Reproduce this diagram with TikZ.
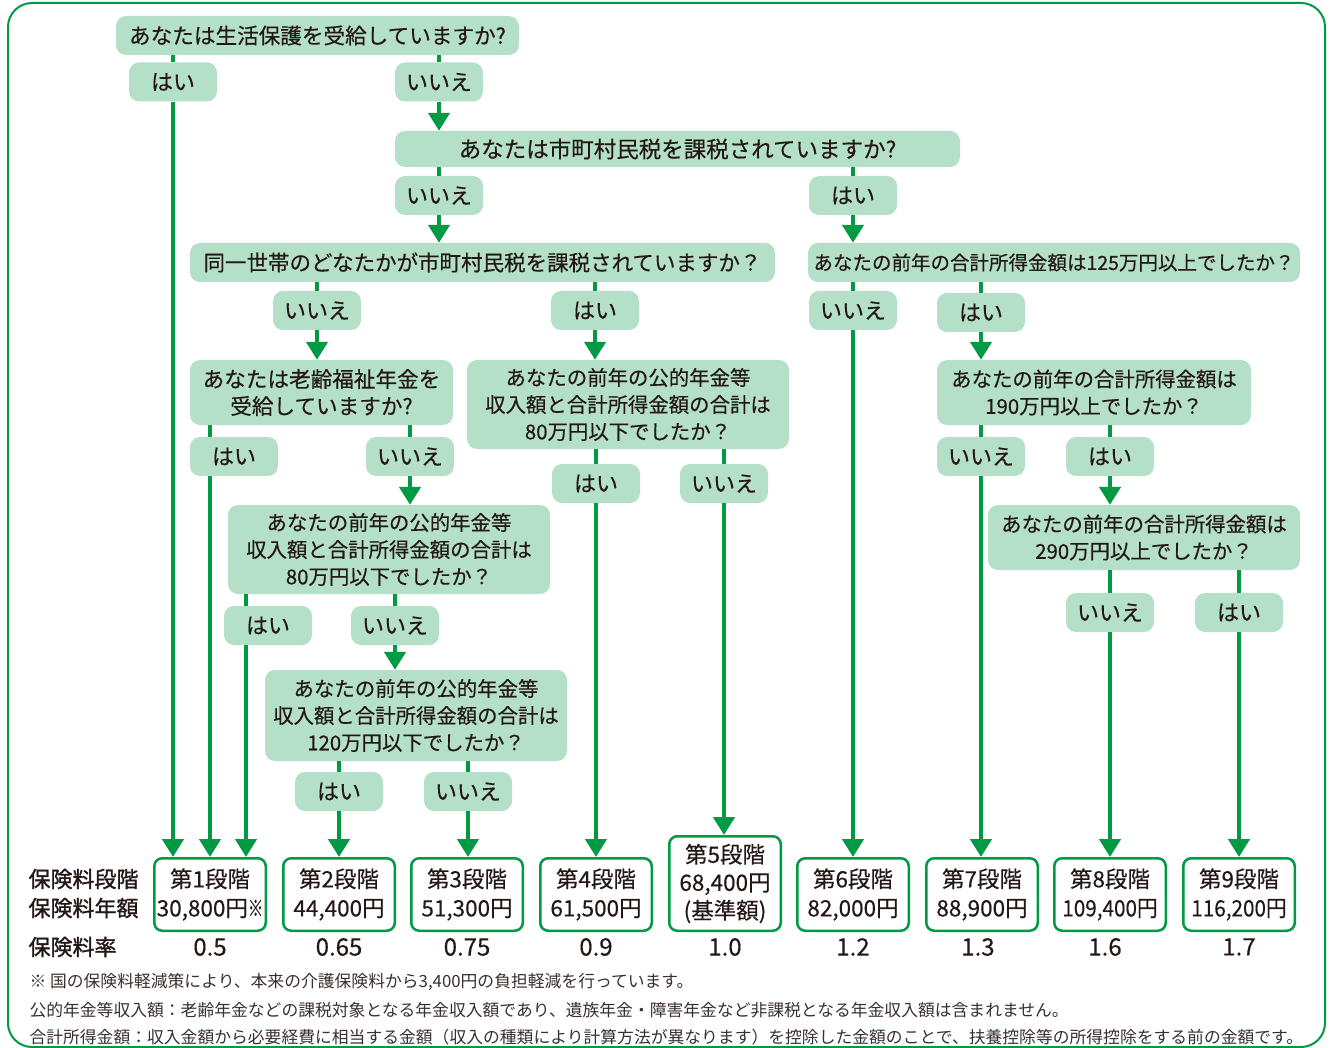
\documentclass[tikz,border=0pt]{standalone}
\usepackage{fontspec}
\setmainfont{Noto Sans CJK JP}[FakeBold=0.35]
\newfontfamily\notefont{Noto Sans CJK JP}
\newfontfamily\hdfont{Noto Sans CJK JP}[FakeBold=1.3]
\usetikzlibrary{arrows.meta,calc}
\definecolor{gline}{RGB}{0,153,68}
\definecolor{qfill}{RGB}{180,224,199}
\definecolor{ink}{RGB}{35,24,21}
\newcommand{\fsz}[1]{\fontsize{#1}{27}\selectfont}
\begin{document}
\begin{tikzpicture}[x=1pt,y=-1pt,
  q/.style={fill=qfill, rounded corners=10pt, inner sep=0pt, align=center, text=ink, font=\fsz{20.4}},
  ans/.style={fill=qfill, rounded corners=10pt, inner sep=0pt, minimum width=88pt, minimum height=39pt, text=ink, font=\fontsize{22}{24}\selectfont},
  lvl/.style={draw=gline, line width=2.5pt, fill=white, rounded corners=8pt, minimum width=111.5pt, minimum height=72.5pt, inner sep=0pt, align=center, text=ink, font=\fontsize{22.5}{29}\selectfont},
  stub/.style={draw=gline, line width=4.5pt},
  arr/.style={draw=gline, line width=4.5pt, -{Triangle[width=21pt,length=18pt]}},
  hd/.style={anchor=west, text=ink, font=\hdfont\fontsize{22}{22}\selectfont},
  rate/.style={text=ink, font=\fontsize{24}{24}\selectfont},
  note/.style={anchor=west, text=ink!90, font=\notefont\fontsize{16.8}{16.8}\selectfont},
]
\useasboundingbox (0,0) rectangle (1330,1048);
\draw[gline, line width=2pt, rounded corners=24pt] (8,3) rectangle (1325,1047);

% questions
\node[q, font=\fsz{21.6}, minimum width=403pt, minimum height=39pt] (q1) at (317.5,35.5) {あなたは生活保護を受給していますか?};
\node[q, font=\fsz{22.5}, minimum width=565pt, minimum height=36pt] (q2) at (677.5,149) {あなたは市町村民税を課税されていますか?};
\node[q, font=\fsz{21.5}, minimum width=585pt, minimum height=39pt] (q3) at (482.5,262.5) {同一世帯のどなたかが市町村民税を課税されていますか？};
\node[q, font=\fsz{19.5}, minimum width=492pt, minimum height=39pt] (q4) at (1054,262.5) {あなたの前年の合計所得金額は125万円以上でしたか？};
\node[q, font=\fsz{21.6}, minimum width=263pt, minimum height=65pt] (q5) at (321.5,392.5) {あなたは老齢福祉年金を\\受給していますか?};
\node[q, minimum width=322pt, minimum height=89pt] (q6) at (628,404.5) {あなたの前年の公的年金等\\収入額と合計所得金額の合計は\\80万円以下でしたか？};
\node[q, minimum width=314pt, minimum height=65pt] (q7) at (1094,392.5) {あなたの前年の合計所得金額は\\190万円以上でしたか？};
\node[q, minimum width=322pt, minimum height=89pt] (q8) at (389,549.5) {あなたの前年の公的年金等\\収入額と合計所得金額の合計は\\80万円以下でしたか？};
\node[q, minimum width=312pt, minimum height=65pt] (q9) at (1144,537.5) {あなたの前年の合計所得金額は\\290万円以上でしたか？};
\node[q, minimum width=302pt, minimum height=91pt] (q10) at (416,715.5) {あなたの前年の公的年金等\\収入額と合計所得金額の合計は\\120万円以下でしたか？};

% answers
\node[ans] (yes1) at (173,82) {はい};
\node[ans] (no1) at (439,82) {いいえ};
\node[ans] (no2) at (439,195.5) {いいえ};
\node[ans] (yes2) at (853,195.5) {はい};
\node[ans] (no3) at (317,310.5) {いいえ};
\node[ans] (yes3) at (595,310.5) {はい};
\node[ans] (no4) at (853,310.5) {いいえ};
\node[ans] (yes4) at (981,312.5) {はい};
\node[ans] (yes5) at (234,456.5) {はい};
\node[ans] (no5) at (410,456.5) {いいえ};
\node[ans] (yes6) at (596,483.5) {はい};
\node[ans] (no6) at (724,483.5) {いいえ};
\node[ans] (no7) at (981,456.5) {いいえ};
\node[ans] (yes7) at (1110,456.5) {はい};
\node[ans] (yes8) at (268,625.5) {はい};
\node[ans] (no8) at (395,625.5) {いいえ};
\node[ans] (no9) at (1110,612.5) {いいえ};
\node[ans] (yes9) at (1239,612.5) {はい};
\node[ans] (yes10) at (339,791.5) {はい};
\node[ans] (no10) at (468,791.5) {いいえ};

% levels
\node[lvl] (t1) at (210,894.5) {第1段階\\30,800円\scalebox{0.68}[1]{※}};
\node[lvl] (t2) at (339,894.5) {第2段階\\44,400円};
\node[lvl] (t3) at (467,894.5) {第3段階\\51,300円};
\node[lvl] (t4) at (596,894.5) {第4段階\\61,500円};
\node[lvl, minimum height=94.5pt, font=\fontsize{22.5}{28}\selectfont] (t5) at (725,883.5) {第5段階\\68,400円\\(基準額)};
\node[lvl] (t6) at (853,894.5) {第6段階\\82,000円};
\node[lvl] (t7) at (982,894.5) {第7段階\\88,900円};
\node[lvl] (t8) at (1110,894.5) {第8段階\\\scalebox{0.92}[1]{109,400円}};
\node[lvl] (t9) at (1239,894.5) {第9段階\\\scalebox{0.92}[1]{116,200円}};

\coordinate (x8) at (246,0);

% connectors
\draw[stub] (q1.south -| yes1) -- (yes1.north);
\draw[arr] (yes1.south) -- (yes1.south |- t1.north);
\draw[stub] (q1.south -| no1) -- (no1.north);
\draw[arr] (no1.south) -- (no1.south |- q2.north);
\draw[stub] (q2.south -| no2) -- (no2.north);
\draw[arr] (no2.south) -- (no2.south |- q3.north);
\draw[stub] (q2.south -| yes2) -- (yes2.north);
\draw[arr] (yes2.south) -- (yes2.south |- q4.north);
\draw[stub] (q3.south -| no3) -- (no3.north);
\draw[arr] (no3.south) -- (no3.south |- q5.north);
\draw[stub] (q3.south -| yes3) -- (yes3.north);
\draw[arr] (yes3.south) -- (yes3.south |- q6.north);
\draw[stub] (q4.south -| no4) -- (no4.north);
\draw[arr] (no4.south) -- (no4.south |- t6.north);
\draw[stub] (q4.south -| yes4) -- (yes4.north);
\draw[arr] (yes4.south) -- (yes4.south |- q7.north);
\draw[stub] (q5.south -| t1) -- (yes5.north -| t1);
\draw[arr] (yes5.south -| t1) -- (t1.north);
\draw[stub] (q5.south -| no5) -- (no5.north);
\draw[arr] (no5.south) -- (no5.south |- q8.north);
\draw[stub] (q6.south -| yes6) -- (yes6.north);
\draw[arr] (yes6.south) -- (yes6.south |- t4.north);
\draw[stub] (q6.south -| no6) -- (no6.north);
\draw[arr] (no6.south) -- (no6.south |- t5.north);
\draw[stub] (q7.south -| no7) -- (no7.north);
\draw[arr] (no7.south) -- (no7.south |- t7.north);
\draw[stub] (q7.south -| yes7) -- (yes7.north);
\draw[arr] (yes7.south) -- (yes7.south |- q9.north);
\draw[stub] (q8.south -| x8) -- (yes8.north -| x8);
\draw[arr] (yes8.south -| x8) -- (t1.north -| x8);
\draw[stub] (q8.south -| no8) -- (no8.north);
\draw[arr] (no8.south) -- (no8.south |- q10.north);
\draw[stub] (q9.south -| no9) -- (no9.north);
\draw[arr] (no9.south) -- (no9.south |- t8.north);
\draw[stub] (q9.south -| yes9) -- (yes9.north);
\draw[arr] (yes9.south) -- (yes9.south |- t9.north);
\draw[stub] (q10.south -| yes10) -- (yes10.north);
\draw[arr] (yes10.south) -- (yes10.south |- t2.north);
\draw[stub] (q10.south -| no10) -- (no10.north);
\draw[arr] (no10.south) -- (no10.south |- t3.north);

% row headings
\node[hd] (h1) at (25,879) {保険料段階};
\node[hd] (h2) at (25,908) {保険料年額};
\node[hd] (h3) at (25,947) {保険料率};

% rates
\node[rate] (r1) at (210,947) {0.5};
\node[rate] (r2) at (339,947) {0.65};
\node[rate] (r3) at (467,947) {0.75};
\node[rate] (r4) at (596,947) {0.9};
\node[rate] (r5) at (725,947) {1.0};
\node[rate] (r6) at (853,947) {1.2};
\node[rate] (r7) at (978,947) {1.3};
\node[rate] (r8) at (1105,947) {1.6};
\node[rate] (r9) at (1239,947) {1.7};

% notes
\node[note] (n1) at (26,982) {※ 国の保険料軽減策により、本来の介護保険料から3,400円の負担軽減を行っています。};
\node[note] (n2) at (26,1010) {公的年金等収入額：老齢年金などの課税対象となる年金収入額であり、遺族年金・障害年金など非課税となる年金収入額は含まれません。};
\node[note] (n3) at (26,1037) {合計所得金額：収入金額から必要経費に相当する金額（収入の種類により計算方法が異なります）を控除した金額のことで、扶養控除等の所得控除をする前の金額です。};
\end{tikzpicture}
\end{document}
